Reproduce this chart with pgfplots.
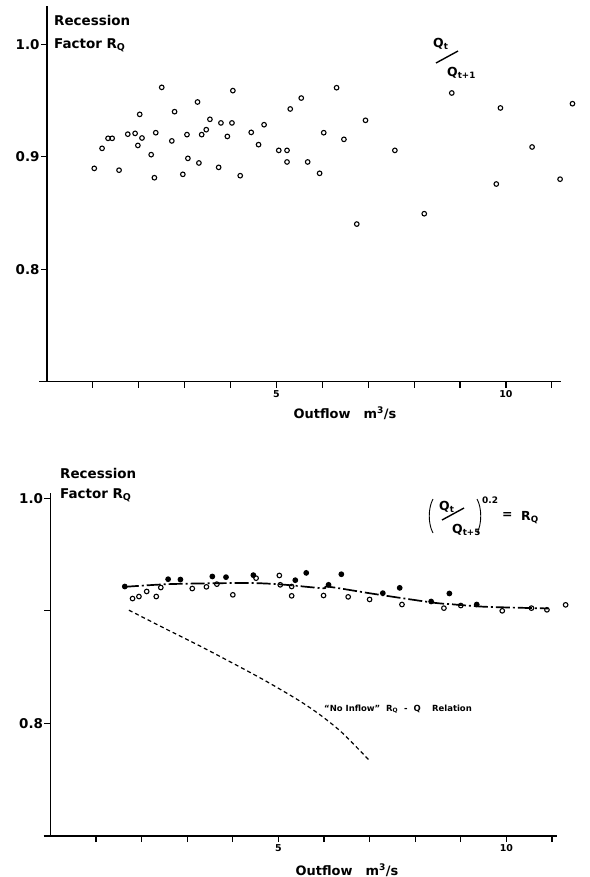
\documentclass[border=0pt]{standalone}
\usepackage{fontspec}
\setmainfont{DejaVu Sans}
\usepackage{pgfplots}
\pgfplotsset{compat=1.18}
\usepackage{pgfplotstable}

\newcommand\lf[1]{\fontsize{#1}{#1}\selectfont\bfseries}

% Q_t/Q_{t+1} against outflow
\pgfplotstableread{
x y
1.03 0.8896
1.20 0.9074
1.33 0.9163
1.42 0.9163
1.57 0.8880
1.76 0.9200
1.92 0.9207
1.98 0.9100
2.02 0.9376
2.07 0.9166
2.27 0.9018
2.34 0.8813
2.37 0.9213
2.50 0.9616
2.72 0.9140
2.78 0.9400
2.96 0.8843
3.05 0.9196
3.07 0.8985
3.28 0.9486
3.31 0.8944
3.37 0.9196
3.47 0.9240
3.55 0.9332
3.74 0.8905
3.79 0.9300
3.93 0.9180
4.03 0.9300
4.05 0.9587
4.21 0.8831
4.45 0.9216
4.61 0.9107
4.73 0.9284
5.05 0.9056
5.23 0.9056
5.23 0.8953
5.30 0.9424
5.54 0.9521
5.68 0.8953
5.94 0.8852
6.03 0.9213
6.31 0.9613
6.47 0.9154
6.75 0.8401
6.94 0.9323
7.58 0.9056
8.22 0.8493
8.82 0.9566
9.79 0.8757
9.88 0.9433
10.57 0.9086
11.18 0.8800
11.45 0.9471
}\ratioone

% (Q_t/Q_{t+5})^0.2, open circles
\pgfplotstableread{
x y
1.80 0.9109
1.94 0.9127
2.11 0.9172
2.32 0.9127
2.42 0.9207
3.11 0.9198
3.42 0.9213
3.65 0.9237
4.00 0.9142
4.51 0.9290
5.02 0.9314
5.04 0.9231
5.29 0.9216
5.29 0.9133
5.99 0.9136
6.53 0.9124
7.00 0.9101
7.71 0.9056
8.63 0.9024
9.00 0.9047
9.91 0.9000
10.55 0.9024
10.89 0.9009
11.30 0.9053
}\ratiofiveopen

% (Q_t/Q_{t+5})^0.2, dark points
\pgfplotstableread{
x y
1.63 0.9216
2.58 0.9281
2.85 0.9278
3.55 0.9305
3.85 0.9299
4.45 0.9317
5.37 0.9272
5.61 0.9337
6.10 0.9231
6.38 0.9325
7.29 0.9157
7.66 0.9204
8.35 0.9083
8.75 0.9154
9.35 0.9056
}\ratiofivedark

\pgfplotsset{
  recess/.style={
    scale only axis, clip=false,
    axis x line=bottom, axis y line=left,
    axis line style={-, line width=1.5bp},
    tick style={black, line width=1.2bp},
    tick align=outside, major tick length=6bp,
    xmin=0, ymin=0.7,
    xtick={1,2,...,11}, xticklabels={,,,,5,,,,,10,},
    x tick label style={font=\lf{9.5}, yshift=1bp},
    y tick label style={font=\lf{13.5}, xshift=2bp},
  },
  dots/.style={only marks, mark=o, mark size=2.3bp,
    mark options={line width=1.1bp, black}},
}

\begin{document}
\begin{tikzpicture}
\path[use as bounding box] (0,0) rectangle (590bp,-877bp);

% upper panel
\begin{axis}[recess, at={(47bp,-381.7bp)}, anchor=south west,
  width=514bp, height=375.8bp, xmax=11.2, ymax=1.034,
  ytick={0.8,0.9,1.0}, yticklabels={0.8,0.9,1.0}]
\addplot[dots] table {\ratioone};
\draw[line width=1.5bp] (axis cs:-0.17,0.7) -- (axis cs:0,0.7);
\end{axis}

% lower panel
\begin{axis}[recess, at={(50.5bp,-836bp)}, anchor=south west,
  width=506bp, height=343.4bp, xmax=11.1, ymax=1.005,
  ytick={0.8,0.9,1.0}, yticklabels={0.8,,1.0}]
\addplot[black, line width=1.2bp, dash pattern=on 4bp off 3bp, smooth]
  coordinates {(1.72,0.9006) (2.51,0.8843) (3.17,0.8710) (3.83,0.8571)
               (4.65,0.8393) (5.40,0.8216) (5.89,0.8083) (6.39,0.7920) (7.00,0.7669)};
\addplot[black, line width=1.7bp, smooth, dash pattern=on 14bp off 3bp on 2bp off 3bp]
  coordinates {(1.63,0.9213) (2.59,0.9237) (3.83,0.9246) (4.49,0.9246)
               (5.07,0.9234) (5.97,0.9201) (6.10,0.9214) (7.13,0.9148)
               (8.37,0.9074) (8.78,0.9059) (9.44,0.9038) (10.02,0.9030) (10.92,0.9021)};
\addplot[dots] table {\ratiofiveopen};
\addplot[dots, mark=*, mark options={line width=1.1bp, black, fill=black}] table {\ratiofivedark};
\draw[line width=1.5bp] (axis cs:-0.15,0.7) -- (axis cs:0,0.7);
\end{axis}

% axis titles
\node[anchor=base west, font=\lf{13.5}, inner sep=0] at (54bp,-25bp) {Recession};
\node[anchor=base west, font=\lf{13.5}, inner sep=0] at (54bp,-48bp) {Factor R\textsubscript{Q}};
\node[anchor=base west, font=\lf{13.5}, inner sep=0] at (60bp,-478bp) {Recession};
\node[anchor=base west, font=\lf{13.5}, inner sep=0] at (60bp,-498bp) {Factor R\textsubscript{Q}};
\node[anchor=base, font=\lf{13}, inner sep=0] at (345bp,-418bp) {Outflow\quad m\textsuperscript{3}/s};
\node[anchor=base, font=\lf{13}, inner sep=0] at (347bp,-875bp) {Outflow\quad m\textsuperscript{3}/s};

% upper formula Q_t / Q_{t+1}
\node[anchor=base west, font=\lf{12.5}, inner sep=0] at (433bp,-47bp) {Q\textsubscript{t}};
\draw[line width=1.4bp] (436bp,-63bp) -- (458bp,-51bp);
\node[anchor=base west, font=\lf{12.5}, inner sep=0] at (447bp,-76bp) {Q\textsubscript{t+1}};

% lower formula (Q_t / Q_{t+5})^0.2 = R_Q
\draw[line width=0.9bp] (433bp,-499bp) .. controls (428bp,-508bp) and (428bp,-524bp) .. (433bp,-533bp);
\node[anchor=base west, font=\lf{12.5}, inner sep=0] at (439bp,-510bp) {Q\textsubscript{t}};
\draw[line width=1.4bp] (442bp,-520bp) -- (464bp,-508bp);
\node[anchor=base west, font=\lf{12.5}, inner sep=0] at (452bp,-533bp) {Q\textsubscript{t+5}};
\draw[line width=0.9bp] (477bp,-499bp) .. controls (482bp,-508bp) and (482bp,-524bp) .. (477bp,-533bp);
\node[anchor=base west, font=\lf{9}, inner sep=0] at (482bp,-503bp) {0.2};
\node[anchor=base west, font=\lf{12.5}, inner sep=0] at (502bp,-518bp) {=};
\node[anchor=base west, font=\lf{12.5}, inner sep=0] at (521bp,-520bp) {R\textsubscript{Q}};

% curve label
\node[anchor=base west, font=\lf{8.5}, inner sep=0] at (324bp,-711bp)
  {``No Inflow''\ \ R\textsubscript{Q}\ \ -\ \ Q\quad\ Relation};
\end{tikzpicture}
\end{document}
